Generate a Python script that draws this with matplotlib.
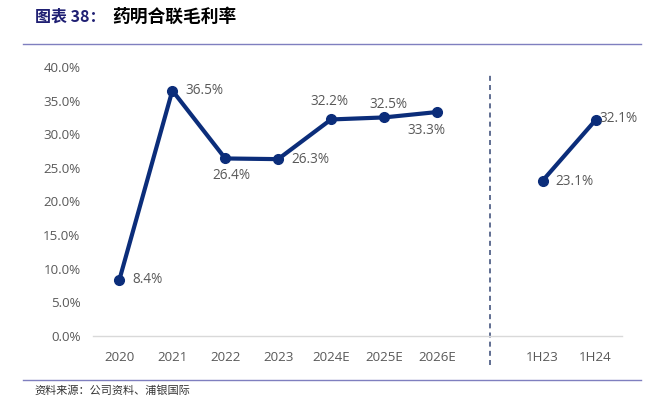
import matplotlib
matplotlib.use("Agg")
import matplotlib.pyplot as plt
from matplotlib.lines import Line2D

# ---- data ----
annual_labels = ["2020", "2021", "2022", "2023", "2024E", "2025E", "2026E"]
annual_values = [8.4, 36.5, 26.4, 26.3, 32.2, 32.5, 33.3]
half_labels = ["1H23", "1H24"]
half_values = [23.1, 32.1]
y_ticks = [0, 5, 10, 15, 20, 25, 30, 35, 40]

title_prefix = "图表 38："
title_main = "药明合联毛利率"
source_text = "资料来源：公司资料、浦银国际"

# label offsets in pixels (dx, dy), and alignment
ann_offsets = [(13, 0, "left", "center"), (13, 0, "left", "center"),
               (6, -17, "center", "center"), (13, 0, "left", "center"),
               (-2, 18, "center", "center"), (4, 13, "center", "center"),
               (-10, -18, "center", "center")]
half_offsets = [(13, -1, "left", "center"), (4, 2, "left", "center")]

plt.rcParams['font.family'] = ['Open Sans', 'DejaVu Sans']
NAVY = "#0B2D7A"
GRAY = "#595959"

fig = plt.figure(figsize=(6.66, 3.97), dpi=100)
W, H = 666, 397
ax = fig.add_axes([93 / W, (H - 336) / H, (622 - 93) / W, (336 - 67) / H])

x_annual = list(range(len(annual_labels)))
x_half = [len(annual_labels) + 1 + i for i in range(len(half_labels))]
divider_x = len(annual_labels)

ax.plot(x_annual, annual_values, color=NAVY, lw=3, marker="o", ms=7, zorder=3)
ax.plot(x_half, half_values, color=NAVY, lw=3, marker="o", ms=7, zorder=3)

px = 72 / 100
for x, v, (dx, dy, ha, va) in zip(x_annual, annual_values, ann_offsets):
    ax.annotate(f"{v:.1f}%", (x, v), xytext=(dx * px, dy * px), textcoords="offset points",
                ha=ha, va=va, fontsize=9.8, color=GRAY)
for x, v, (dx, dy, ha, va) in zip(x_half, half_values, half_offsets):
    ax.annotate(f"{v:.1f}%", (x, v), xytext=(dx * px, dy * px), textcoords="offset points",
                ha=ha, va=va, fontsize=9.8, color=GRAY)

ax.set_xlim(-0.5, len(annual_labels) + len(half_labels) + 0.5)
ax.set_ylim(0, 40)
ax.set_yticks(y_ticks)
ax.set_yticklabels([f"{t:.1f}%" for t in y_ticks])
ax.set_xticks(x_annual + x_half)
ax.set_xticklabels(annual_labels + half_labels)
ax.tick_params(axis="both", length=0, labelsize=9.6, labelcolor=GRAY)
ax.tick_params(axis="x", pad=11)
ax.tick_params(axis="y", pad=9)
for s in ["top", "right", "left"]:
    ax.spines[s].set_visible(False)
ax.spines["bottom"].set_color("#D9D9D9")
ax.spines["bottom"].set_linewidth(1)

ax.axvline(divider_x, ymin=-0.108, ymax=0.97, color="#44557F", lw=1.2,
           ls=(0, (3, 2.5)), clip_on=False, zorder=2)

# title and rules
fig.text(35 / W, 1 - 17 / H, title_prefix, fontsize=11.5, fontweight="bold", color="#1F1F73",
         family=['Noto Sans CJK SC', 'DejaVu Sans'], va="center", ha="left")
fig.text(112 / W, 1 - 17 / H, title_main, fontsize=12.8, fontweight="bold", color="black",
         family=['Noto Sans CJK SC', 'DejaVu Sans'], va="center", ha="left")
fig.add_artist(Line2D([23 / W, 641 / W], [1 - 44 / H, 1 - 44 / H], color="#7F7FBF", lw=1))
fig.add_artist(Line2D([23 / W, 641 / W], [1 - 380 / H, 1 - 380 / H], color="#7F7FBF", lw=1))
fig.text(34 / W, 1 - 391 / H, source_text, fontsize=8, color="#333333",
         family=['Noto Sans CJK SC', 'DejaVu Sans'], va="center", ha="left")

fig.savefig("out.png", dpi=100)
